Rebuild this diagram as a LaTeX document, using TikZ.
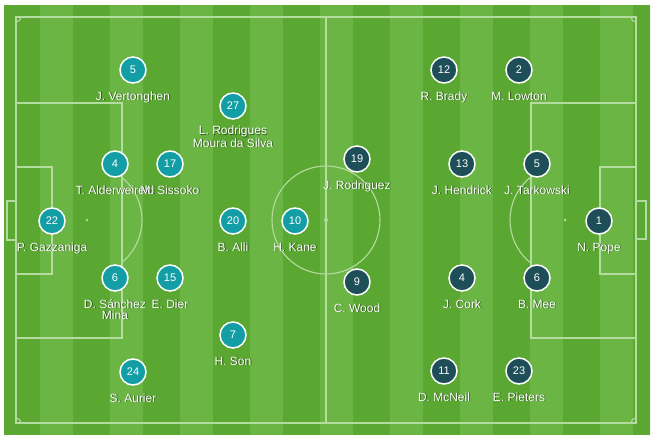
\documentclass[tikz,border=0pt]{standalone}
\usepackage{fontspec}
\setmainfont{Liberation Sans}
\usetikzlibrary{calc}
\definecolor{stripeA}{RGB}{90,167,49}
\definecolor{stripeB}{RGB}{107,181,69}
\definecolor{totcol}{RGB}{19,158,166}
\definecolor{burcol}{RGB}{30,78,88}
\definecolor{pline}{RGB}{180,220,158}
\tikzset{
 pitchline/.style={draw=pline, line width=1.1pt},
 totc/.style={circle, fill=totcol, draw=white, line width=1.5pt, minimum size=26pt, inner sep=0pt, text=white, font=\fontsize{11}{11}\selectfont},
 burc/.style={totc, fill=burcol},
 lbl/.style={anchor=base, align=center, inner sep=0pt, text=white, font=\fontsize{12}{11}\selectfont},
 lblshadow/.style={lbl, text=black, text opacity=0.5},
}
% #1 name, #2 number, #3 x, #4 y, #5 label, #6 style, #7 label drop
\newcommand\plyr[7]{%
 \node[#6] (#1) at (#3,#4) {#2};
 \node[lblshadow] (#1s) at ($(#1.center)+(0.9,#7+0.9)$) {#5};
 \node[lbl] (#1l) at ($(#1.center)+(0,#7)$) {#5};
}
\begin{document}
\begin{tikzpicture}[x=1pt,y=-1pt]
\useasboundingbox (0,0) rectangle (655,441);
\fill[white] (0,0) rectangle (655,441);
% grass
\begin{scope}
\clip (4,5) rectangle (650,435);
\fill[stripeB] (4,5) rectangle (650,435);
\foreach \k in {0,...,9}{
  \fill[stripeA] ({70*\k+3},5) rectangle ({70*\k+40},435);
}
\end{scope}
% pitch lines
\draw[pitchline] (16,17) rectangle (636,423);
\draw[pitchline] (326,17) -- (326,423);
\draw[pitchline] (326,220) circle[radius=54];
\fill[pline] (326,220) circle[radius=2];
% left
\draw[pitchline] (16,103) rectangle (122,338);
\draw[pitchline] (16,167) rectangle (52,274);
\draw[pitchline] (7,201) rectangle (16,240);
\fill[pline] (87,220) circle[radius=1.5];
\begin{scope}
\clip (122,0) rectangle (200,441);
\draw[pitchline] (87,220) circle[radius=55];
\end{scope}
% right
\draw[pitchline] (531,103) rectangle (636,338);
\draw[pitchline] (600,167) rectangle (636,274);
\draw[pitchline] (636,201) rectangle (646,239);
\fill[pline] (565,220) circle[radius=1.5];
\begin{scope}
\clip (450,0) rectangle (531,441);
\draw[pitchline] (565,220) circle[radius=55];
\end{scope}
% corners
\begin{scope}
\clip (16,17) rectangle (636,423);
\draw[pitchline] (16,17) circle[radius=5];
\draw[pitchline] (636,17) circle[radius=5];
\draw[pitchline] (16,423) circle[radius=5];
\draw[pitchline] (636,423) circle[radius=5];
\end{scope}
% Tottenham
\plyr{t5}{5}{133}{70}{J. Vertonghen}{totc}{30}
\plyr{t27}{27}{233}{106}{L. Rodrigues\\Moura da Silva}{totc}{41}
\plyr{t4}{4}{115}{164}{T. Alderweireld}{totc}{30}
\plyr{t17}{17}{170}{164}{M. Sissoko}{totc}{30}
\plyr{t22}{22}{52}{221}{P. Gazzaniga}{totc}{30}
\plyr{t20}{20}{233}{221}{B. Alli}{totc}{30}
\plyr{t10}{10}{295}{221}{H. Kane}{totc}{30}
\plyr{t6}{6}{115}{278}{D. Sánchez\\Mina}{totc}{41}
\plyr{t15}{15}{170}{278}{E. Dier}{totc}{30}
\plyr{t7}{7}{233}{335}{H. Son}{totc}{30}
\plyr{t24}{24}{133}{372}{S. Aurier}{totc}{30}
% Burnley
\plyr{b12}{12}{444}{70}{R. Brady}{burc}{30}
\plyr{b2}{2}{519}{70}{M. Lowton}{burc}{30}
\plyr{b19}{19}{357}{159}{J. Rodriguez}{burc}{30}
\plyr{b13}{13}{462}{164}{J. Hendrick}{burc}{30}
\plyr{b5}{5}{537}{164}{J. Tarkowski}{burc}{30}
\plyr{b1}{1}{599}{221}{N. Pope}{burc}{30}
\plyr{b9}{9}{357}{282}{C. Wood}{burc}{30}
\plyr{b4}{4}{462}{278}{J. Cork}{burc}{30}
\plyr{b6}{6}{537}{278}{B. Mee}{burc}{30}
\plyr{b11}{11}{444}{371}{D. McNeil}{burc}{30}
\plyr{b23}{23}{519}{371}{E. Pieters}{burc}{30}
\end{tikzpicture}
\end{document}
